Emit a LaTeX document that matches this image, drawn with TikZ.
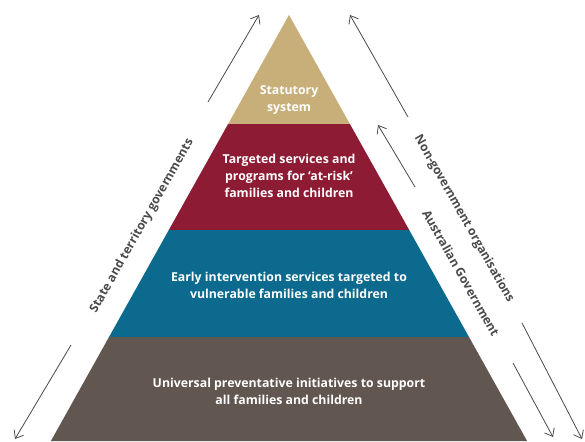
\documentclass[tikz,border=0pt]{standalone}
\usepackage{fontspec}
\setmainfont{Open Sans}
\usetikzlibrary{arrows.meta}
\definecolor{tanc}{HTML}{C8AE78}
\definecolor{redc}{HTML}{8C1B33}
\definecolor{tealc}{HTML}{0B6A8D}
\definecolor{brownc}{HTML}{625651}
\definecolor{arrc}{HTML}{4A4A4A}
\definecolor{labc}{HTML}{4A4A4A}
\tikzset{
  layertext/.style={text=white, font=\bfseries\fontsize{12.3}{17}\selectfont, align=center, inner sep=0pt},
  sidetext/.style={text=labc, font=\bfseries\fontsize{12.2}{14}\selectfont, inner sep=0pt},
  arr/.style={draw=arrc, line width=0.8pt, -{Straight Barb[length=7pt,width=11pt]}}
}
\begin{document}
\begin{tikzpicture}[x=1pt,y=-1pt]
\useasboundingbox (0,0) rectangle (585,441);
% pyramid layers
\fill[tanc] (289,15) -- (349.9,124) -- (228.1,124) -- cycle;
\fill[redc] (228.1,124) -- (349.9,124) -- (409.2,230) -- (168.8,230) -- cycle;
\fill[tealc] (168.8,230) -- (409.2,230) -- (469,337) -- (109,337) -- cycle;
\fill[brownc] (109,337) -- (469,337) -- (527.1,441) -- (50.9,441) -- cycle;
% layer texts
\node[layertext] (t1) at (289,100) {Statutory\\system};
\node[layertext] (t2) at (289,176) {Targeted services and\\programs for ‘at-risk’\\families and children};
\node[layertext] (t3) at (289,285) {Early intervention services targeted to\\vulnerable families and children};
\node[layertext] (t4) at (289,391.5) {Universal preventative initiatives to support\\all families and children};
% side labels
\node[sidetext, rotate=60.5] (ls) at (142,226) {State and territory governments};
\node[sidetext, rotate=-60.5] (rn) at (464,219) {Non-government organisations};
\node[sidetext, rotate=-60.5] (ra) at (461,273) {Australian Government};
% arrows
\coordinate (l1s) at (208,102); \coordinate (l1e) at (259,15);
\coordinate (l2s) at (71,345);  \coordinate (l2e) at (15,439);
\coordinate (r1s) at (408,117); \coordinate (r1e) at (350,15);
\coordinate (r2s) at (415,187); \coordinate (r2e) at (378,125);
\coordinate (r3s) at (522,323); \coordinate (r3e) at (582,439);
\coordinate (r4s) at (513,363); \coordinate (r4e) at (553,437);
\draw[arr] (l1s) -- (l1e);
\draw[arr] (l2s) -- (l2e);
\draw[arr] (r1s) -- (r1e);
\draw[arr] (r2s) -- (r2e);
\draw[arr] (r3s) -- (r3e);
\draw[arr] (r4s) -- (r4e);
\end{tikzpicture}
\end{document}
